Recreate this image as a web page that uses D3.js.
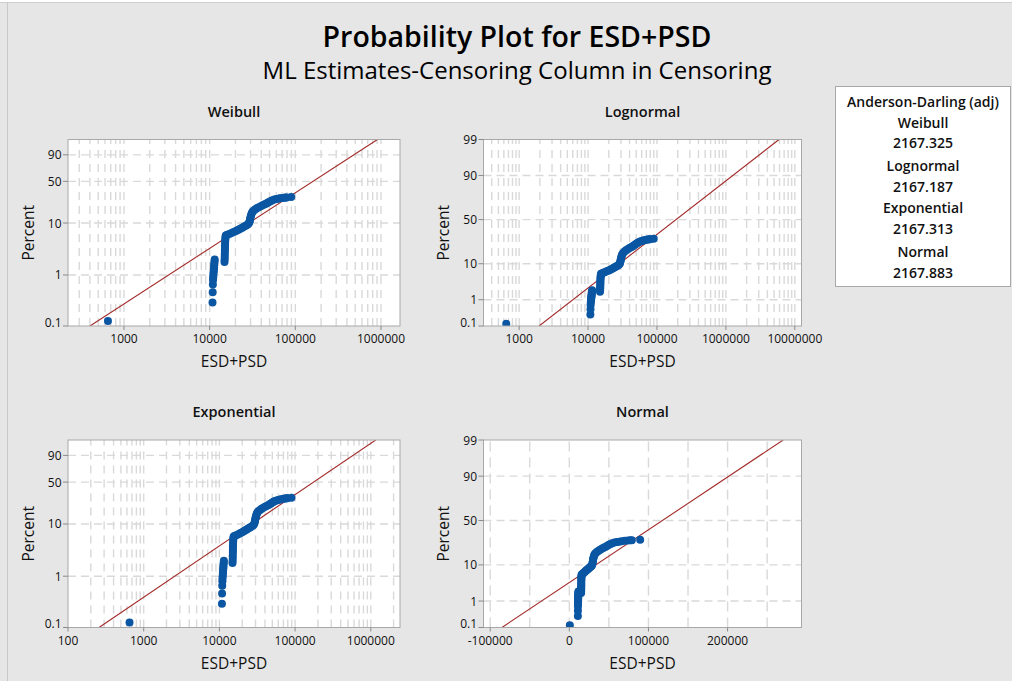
<!DOCTYPE html>
<html><head><meta charset="utf-8">
<script src="https://cdn.jsdelivr.net/npm/d3@7"></script>
<style>
html,body{margin:0;padding:0;background:#e6e6e6;}
svg{display:block;font-family:"Open Sans","Noto Sans",sans-serif;}
</style></head><body>
<svg id="chart" width="1012" height="681"></svg>
<script>
// ---- data -------------------------------------------------------------
// ESD+PSD observations (uncensored) and their plotting-position percents
const obsValue = [
  650,
  10800,10850,10900,10950,11000,11050,11100,11150,11200,11250,11300,11350,11400,11450,
  14900,14950,15000,15000,15050,15050,15100,15100,15150,15200,15250,15300,15400,
  16000,17000,18000,19000,20000,21000,22000,23000,24000,25000,26000,27000,28000,28800,
  29200,29500,29700,30000,30300,30700,31200,31800,
  33000,34500,36000,38000,40000,42000,44000,46000,48000,50000,52000,54000,57000,60000,
  63000,66000,70000,74000,77000,79000,89500
];
const obsPercent = [
  0.125,
  0.29,0.46,0.65,0.80,0.90,1.0,1.1,1.2,1.3,1.42,1.55,1.7,1.85,2.0,
  1.8,2.0,2.25,2.5,2.8,3.1,3.4,3.8,4.2,4.6,5.0,5.4,5.8,
  6.0,6.2,6.5,6.8,7.0,7.3,7.6,7.9,8.2,8.5,8.8,9.1,9.5,10.0,
  10.6,11.3,12.0,12.8,13.6,14.5,15.4,16.3,
  17.2,18.0,18.8,19.6,20.4,21.1,21.8,22.5,23.3,24.1,24.9,25.6,26.2,26.7,
  27.1,27.5,27.9,28.2,28.4,28.5,29.0
];

// fitted ML lines, given by their two ends [value, percent]
const weibullFit     = [[401, 0.1], [910000, 99]];
const lognormalFit   = [[1950, 0.1], [5900000, 99]];
const exponentialFit = [[257, 0.1], [1160000, 99]];
const normalFit      = [[-85200, 0.1], [270200, 99]];

// goodness-of-fit table
const adNames  = ["Weibull", "Lognormal", "Exponential", "Normal"];
const adValues = ["2167.325", "2167.187", "2167.313", "2167.883"];

// axis ticks
const pctTicksWeibull = [0.1, 1, 10, 50, 90];
const pctTicksNormal  = [0.1, 1, 10, 50, 90, 99];
const xTicksWeibull   = [1000, 10000, 100000, 1000000];
const xTicksLognormal = [1000, 10000, 100000, 1000000, 10000000];
const xTicksExpo      = [100, 1000, 10000, 100000, 1000000];
const xTicksNormal    = [-100000, 0, 100000, 200000];
const xGridNormal     = [-100000, -50000, 0, 50000, 100000, 150000, 200000, 250000];

// ---- probability transforms ------------------------------------------
function probit(p) {
  const a = [-3.969683028665376e+01, 2.209460984245205e+02, -2.759285104469687e+02, 1.383577518672690e+02, -3.066479806614716e+01, 2.506628277459239e+00];
  const b = [-5.447609879822406e+01, 1.615858368580409e+02, -1.556989798598866e+02, 6.680131188771972e+01, -1.328068155288572e+01];
  const c = [-7.784894002430293e-03, -3.223964580411365e-01, -2.400758277161838e+00, -2.549732539343734e+00, 4.374664141464968e+00, 2.938163982698783e+00];
  const d = [7.784695709041462e-03, 3.224671290700398e-01, 2.445134137142996e+00, 3.754408661907416e+00];
  const pl = 0.02425;
  let q, r;
  if (p < pl) {
    q = Math.sqrt(-2 * Math.log(p));
    return (((((c[0]*q+c[1])*q+c[2])*q+c[3])*q+c[4])*q+c[5]) / ((((d[0]*q+d[1])*q+d[2])*q+d[3])*q+1);
  }
  if (p <= 1 - pl) {
    q = p - 0.5; r = q * q;
    return (((((a[0]*r+a[1])*r+a[2])*r+a[3])*r+a[4])*r+a[5])*q / (((((b[0]*r+b[1])*r+b[2])*r+b[3])*r+b[4])*r+1);
  }
  q = Math.sqrt(-2 * Math.log(1 - p));
  return -(((((c[0]*q+c[1])*q+c[2])*q+c[3])*q+c[4])*q+c[5]) / ((((d[0]*q+d[1])*q+d[2])*q+d[3])*q+1);
}
const sev = p => Math.log(-Math.log(1 - p));   // smallest extreme value scale

// ---- layout -----------------------------------------------------------
const svg = d3.select("#chart");
const W = 1012, H = 681;

svg.append("rect").attr("width", W).attr("height", H).attr("fill", "#e6e6e6");
svg.append("rect").attr("width", W).attr("height", 2).attr("fill", "#ffffff");
svg.append("line").attr("x1", 0).attr("x2", W).attr("y1", 2.5).attr("y2", 2.5)
  .attr("stroke", "#cfcfcf");
svg.append("line").attr("x1", 7.5).attr("x2", 7.5).attr("y1", 3).attr("y2", H)
  .attr("stroke", "#c8c8c8");

svg.append("text").attr("x", 517).attr("y", 47).attr("text-anchor", "middle")
  .attr("font-size", 28.5).attr("font-weight", 600).attr("fill", "#000")
  .text("Probability Plot for ESD+PSD");
svg.append("text").attr("x", 517).attr("y", 78.5).attr("text-anchor", "middle")
  .attr("font-size", 24).attr("font-weight", 500).attr("fill", "#000")
  .text("ML Estimates-Censoring Column in Censoring");

const panels = [
  { title: "Weibull", x0: 68, x1: 400, y0: 139.5, y1: 326, xLog: true,
    xDomain: [222, 1667000], xTicks: xTicksWeibull, tf: sev,
    pTicks: pctTicksWeibull, fit: weibullFit },
  { title: "Lognormal", x0: 483.5, x1: 801.5, y0: 139.5, y1: 326, xLog: true,
    xDomain: [304, 12500000], xTicks: xTicksLognormal, tf: probit,
    pTicks: pctTicksNormal, fit: lognormalFit },
  { title: "Exponential", x0: 68, x1: 400, y0: 440, y1: 627.5, xLog: true,
    xDomain: [100, 2430000], xTicks: xTicksExpo, tf: sev,
    pTicks: pctTicksWeibull, fit: exponentialFit },
  { title: "Normal", x0: 483.5, x1: 801.5, y0: 440, y1: 627.5, xLog: false,
    xDomain: [-108460, 293400], xTicks: xTicksNormal, xGrid: xGridNormal, tf: probit,
    pTicks: pctTicksNormal, fit: normalFit }
];

panels.forEach((P, i) => {
  const x = (P.xLog ? d3.scaleLog() : d3.scaleLinear()).domain(P.xDomain).range([P.x0, P.x1]);
  const lin = d3.scaleLinear().domain([P.tf(0.001), P.tf(0.99)]).range([P.y1, P.y0]);
  const y = pct => lin(P.tf(pct / 100));
  const g = svg.append("g");
  const cx = (P.x0 + P.x1) / 2;

  // plot area
  g.append("rect").attr("x", P.x0).attr("y", P.y0)
    .attr("width", P.x1 - P.x0).attr("height", P.y1 - P.y0).attr("fill", "#fff");

  const clipId = "clip" + i;
  svg.append("clipPath").attr("id", clipId).append("rect")
    .attr("x", P.x0).attr("y", P.y0).attr("width", P.x1 - P.x0).attr("height", P.y1 - P.y0);
  const inner = g.append("g").attr("clip-path", `url(#${clipId})`);

  // grid
  let gridX;
  if (P.xLog) {
    gridX = [];
    const lo = Math.floor(Math.log10(P.xDomain[0])), hi = Math.ceil(Math.log10(P.xDomain[1]));
    for (let e = lo; e <= hi; e++)
      for (let k = 1; k <= 9; k++) {
        const v = k * Math.pow(10, e);
        if (v > P.xDomain[0] && v < P.xDomain[1]) gridX.push(v);
      }
  } else {
    gridX = P.xGrid;
  }
  const dash = P.xLog ? "8,6" : "10,6";
  inner.selectAll(".gx").data(gridX).join("line")
    .attr("x1", d => x(d)).attr("x2", d => x(d)).attr("y1", P.y1).attr("y2", P.y0)
    .attr("stroke", "#d9d9d9").attr("stroke-width", 1.4).attr("stroke-dasharray", dash);
  inner.selectAll(".gy").data(P.pTicks.filter(p => p > 0.1 && p < 99)).join("line")
    .attr("x1", P.x0).attr("x2", P.x1).attr("y1", d => y(d)).attr("y2", d => y(d))
    .attr("stroke", "#d9d9d9").attr("stroke-width", 1.4).attr("stroke-dasharray", "8,5");

  // fitted line
  inner.append("line")
    .attr("x1", x(P.fit[0][0])).attr("y1", y(P.fit[0][1]))
    .attr("x2", x(P.fit[1][0])).attr("y2", y(P.fit[1][1]))
    .attr("stroke", "#a32a2a").attr("stroke-width", 1.1);

  // observations
  inner.selectAll("circle").data(obsValue.map((v, j) => [v, obsPercent[j]])).join("circle")
    .attr("cx", d => x(d[0])).attr("cy", d => y(d[1])).attr("r", 4)
    .attr("fill", "#0a56a3");

  // frame
  g.append("rect").attr("x", P.x0).attr("y", P.y0)
    .attr("width", P.x1 - P.x0).attr("height", P.y1 - P.y0)
    .attr("fill", "none").attr("stroke", "#a8a8a8").attr("stroke-width", 1);

  // y axis ticks + labels
  P.pTicks.forEach(p => {
    g.append("line").attr("x1", P.x0 - 5).attr("x2", P.x0).attr("y1", y(p)).attr("y2", y(p))
      .attr("stroke", "#8a8a8a");
    g.append("text").attr("x", P.x0 - 6.5).attr("y", y(p) + (p === 0.1 ? 0.5 : 4.5))
      .attr("text-anchor", "end")
      .attr("font-size", 12).attr("fill", "#111").text(String(p));
  });
  // x axis ticks + labels
  P.xTicks.forEach(v => {
    g.append("line").attr("x1", x(v)).attr("x2", x(v)).attr("y1", P.y1).attr("y2", P.y1 + 4)
      .attr("stroke", "#8a8a8a");
    g.append("text").attr("x", x(v)).attr("y", P.y1 + 17).attr("text-anchor", "middle")
      .attr("font-size", 12).attr("fill", "#111").text(String(v));
  });

  // titles
  g.append("text").attr("x", cx).attr("y", P.y0 - 23).attr("text-anchor", "middle")
    .attr("font-size", 14.5).attr("font-weight", 600).attr("fill", "#111").text(P.title);
  g.append("text").attr("x", cx).attr("y", P.y1 + 41).attr("text-anchor", "middle")
    .attr("font-size", 15.5).attr("font-weight", 500).attr("fill", "#111").text("ESD+PSD");
  const ly = (P.y0 + P.y1) / 2;
  g.append("text").attr("transform", `translate(${P.x0 - 34.5},${ly}) rotate(-90)`)
    .attr("text-anchor", "middle")
    .attr("font-size", 15.5).attr("font-weight", 500).attr("fill", "#111").text("Percent");
});

// Anderson-Darling table
const box = svg.append("g");
box.append("rect").attr("x", 835.5).attr("y", 86.5).attr("width", 175).attr("height", 200)
  .attr("fill", "#fff").attr("stroke", "#a8a8a8");
const rows = ["Anderson-Darling (adj)"];
adNames.forEach((n, k) => { rows.push(n); rows.push(adValues[k]); });
const rowY = [101.7, 122.7, 143, 166, 187, 208, 229, 251.7, 272.7];
box.selectAll("text").data(rows).join("text")
  .attr("x", 923).attr("y", (d, k) => rowY[k] + 5).attr("text-anchor", "middle")
  .attr("font-size", 14).attr("font-weight", 600).attr("fill", "#111").text(d => d);
</script>
</body></html>
